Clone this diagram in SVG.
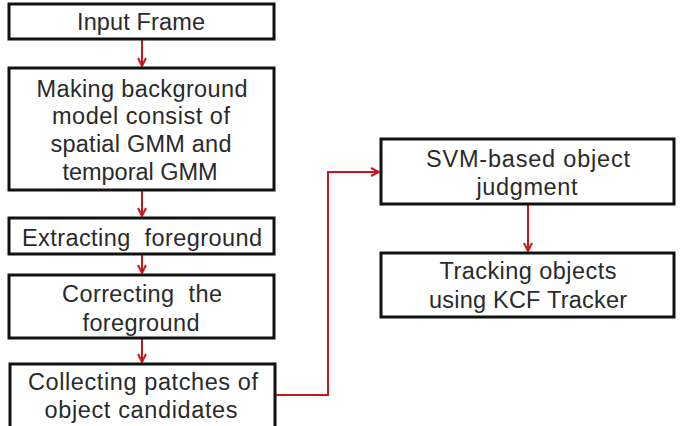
<svg xmlns="http://www.w3.org/2000/svg" width="686" height="426" viewBox="0 0 686 426">
<defs>
<style>
.box{fill:#fff;stroke:#111;stroke-width:3}
.t{font-family:"Liberation Sans","Noto Sans CJK KR",sans-serif;font-size:23.5px;fill:#2a2a2a;text-anchor:middle;white-space:pre}
.c{fill:none;stroke:#c8161d;stroke-width:2}
</style>
<marker id="ah" viewBox="0 0 10 10" refX="9" refY="5" markerWidth="10" markerHeight="10" markerUnits="userSpaceOnUse" orient="auto">
<path d="M1,1 L9,5 L1,9" fill="none" stroke="#c8161d" stroke-width="2"/>
</marker>
</defs>
<rect width="686" height="426" fill="#fff"/>
<g id="connectors">
<line class="c" x1="142" y1="40" x2="142" y2="66" marker-end="url(#ah)"/>
<line class="c" x1="142" y1="191" x2="142" y2="216" marker-end="url(#ah)"/>
<line class="c" x1="142" y1="255" x2="142" y2="273" marker-end="url(#ah)"/>
<line class="c" x1="142" y1="339" x2="142" y2="362" marker-end="url(#ah)"/>
<line class="c" x1="528" y1="205" x2="528" y2="251" marker-end="url(#ah)"/>
<polyline class="c" points="275,395 328,395 328,172 379,172" marker-end="url(#ah)"/>
</g>
<g id="input-frame">
<rect class="box" x="9" y="4" width="265" height="35"/>
<text class="t" x="141" y="30" textLength="128">Input Frame</text>
</g>
<g id="background-model">
<rect class="box" x="9" y="68" width="265" height="122"/>
<text class="t" x="142" y="97" textLength="211">Making background</text>
<text class="t" x="141" y="124" textLength="178">model consist of</text>
<text class="t" x="141" y="152" textLength="181">spatial GMM and</text>
<text class="t" x="140" y="180" textLength="155">temporal GMM</text>
</g>
<g id="extracting">
<rect class="box" x="9" y="218" width="265" height="36"/>
<text class="t" x="142" y="246" textLength="240">Extracting  foreground</text>
</g>
<g id="correcting">
<rect class="box" x="9" y="275" width="265" height="63"/>
<text class="t" x="142" y="302" textLength="160">Correcting  the</text>
<text class="t" x="141" y="331" textLength="117">foreground</text>
</g>
<g id="collecting">
<rect class="box" x="10" y="364" width="265" height="72"/>
<text class="t" x="143" y="390" textLength="230">Collecting patches of</text>
<text class="t" x="141" y="418" textLength="193">object candidates</text>
</g>
<g id="svm">
<rect class="box" x="381" y="139" width="293" height="65"/>
<text class="t" x="528" y="167" textLength="204">SVM-based object</text>
<text class="t" x="527" y="195" textLength="101">judgment</text>
</g>
<g id="tracking">
<rect class="box" x="381" y="253" width="293" height="64"/>
<text class="t" x="528" y="279" textLength="177">Tracking objects</text>
<text class="t" x="528" y="308" textLength="198">using KCF Tracker</text>
</g>
</svg>
